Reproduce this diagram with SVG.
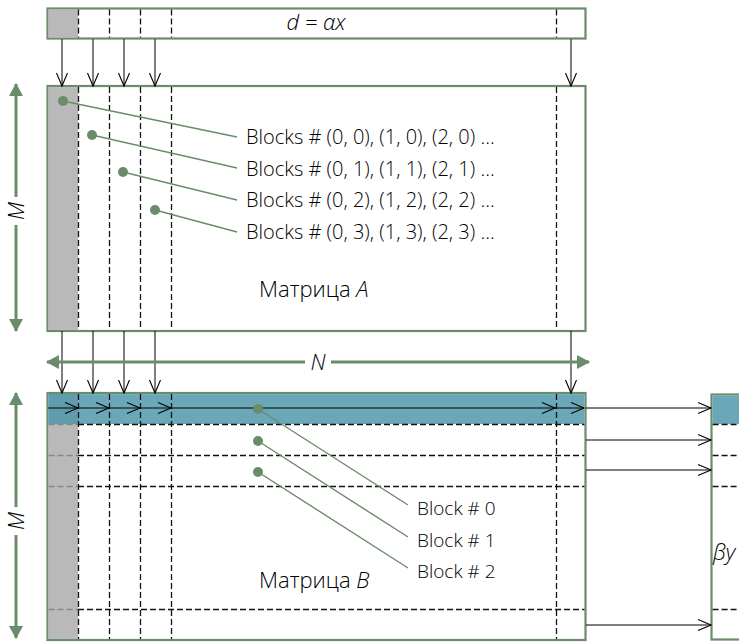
<svg xmlns="http://www.w3.org/2000/svg" width="739" height="642" viewBox="0 0 739 642">
<defs>
<marker id="open" markerUnits="userSpaceOnUse" markerWidth="14" markerHeight="14" refX="13" refY="6" orient="auto" overflow="visible">
<path d="M0,0.5 L13,6 L0,11.5" fill="none" stroke="#000" stroke-width="1.1"/>
</marker>
<marker id="tri" markerUnits="userSpaceOnUse" markerWidth="14" markerHeight="14" refX="12" refY="7" orient="auto-start-reverse" overflow="visible">
<path d="M0,0 L13,7 L0,14 Z" fill="#6a8c6a"/>
</marker>
<style>
.frame{fill:#fff;stroke:#6a8c6a;stroke-width:2.2}
.gray{fill:#b9b9b9}
.teal{fill:#6aa8b8}
.tealdk{fill:#5f9cac}
.dash{stroke:#111;stroke-width:1.3;stroke-dasharray:6 3;fill:none}
.dashl{stroke:#888;stroke-width:1.3;stroke-dasharray:6 3;fill:none}
.arr{stroke:#000;stroke-width:1;fill:none;marker-end:url(#open)}
.dim{stroke:#6a8c6a;stroke-width:3;fill:none;marker-start:url(#tri);marker-end:url(#tri)}
.lead{stroke:#6a8c6a;stroke-width:1.4;fill:none}
.dot{fill:#6a8c6a}
.t{font-family:"Open Sans","Liberation Sans",sans-serif;font-weight:300;font-size:20px;fill:#000}
.tb{font-family:"Open Sans","Liberation Sans",sans-serif;font-weight:300;font-size:19px;fill:#000}
.tm{font-family:"Open Sans","Liberation Sans",sans-serif;font-weight:300;font-size:22px;fill:#000}
.ti{font-family:"Open Sans","Liberation Sans",sans-serif;font-weight:300;font-style:italic;font-size:22px;fill:#000}
</style>
</defs>

<g id="vector-d">
<rect class="frame" x="47.5" y="8.5" width="538" height="30"/>
<rect class="gray" x="48.6" y="9.6" width="29.4" height="27.8"/>
<path class="dash" d="M78.5,9.6V37.4M109.5,9.6V37.4M140.5,9.6V37.4M171.5,9.6V37.4M556.5,9.6V37.4"/>
<text class="ti" x="316" y="30" text-anchor="middle">d = αx</text>
</g>

<g id="matrix-a">
<rect class="frame" x="47.5" y="86" width="538" height="245"/>
<rect class="gray" x="48.6" y="87.1" width="29.4" height="242.8"/>
<path class="dash" d="M78.5,87V330M109.5,87V330M140.5,87V330M171.5,87V330M556.5,87V330"/>
<text class="tm" x="259" y="297">Матрица <tspan font-style="italic">A</tspan></text>
</g>

<g id="matrix-b">
<rect class="frame" x="47.5" y="393" width="538" height="247"/>
<rect class="teal" x="48.6" y="394.1" width="535.8" height="29.9"/>
<rect class="tealdk" x="48.6" y="394.1" width="29.4" height="29.9"/>
<rect class="gray" x="48.6" y="424" width="29.4" height="214.9"/>
<path class="dashl" d="M48.6,424.5H78M48.6,455.5H78M48.6,486.5H78M48.6,609.5H78"/>
<path class="dash" d="M78,424.5H584.4M78,455.5H584.4M78,486.5H584.4M78,609.5H584.4"/>
<path class="dash" d="M78.5,394V639M109.5,394V639M140.5,394V639M171.5,394V639M556.5,394V639"/>
<text class="tm" x="259" y="588">Матрица <tspan font-style="italic">B</tspan></text>
</g>

<g id="vector-by">
<rect class="frame" x="711.5" y="394.5" width="40" height="245"/>
<rect class="teal" x="712.6" y="395.6" width="27" height="28.4"/>
<path class="dash" d="M712.6,424.5H739M712.6,455.5H739M712.6,486.5H739M712.6,609.5H739"/>
<text class="ti" x="713" y="560">βy</text>
</g>

<g id="labels-a">
<text class="t" x="246" y="144">Blocks # (0, 0), (1, 0), (2, 0) ...</text>
<text class="t" x="246" y="176">Blocks # (0, 1), (1, 1), (2, 1) ...</text>
<text class="t" x="246" y="207">Blocks # (0, 2), (1, 2), (2, 2) ...</text>
<text class="t" x="246" y="239">Blocks # (0, 3), (1, 3), (2, 3) ...</text>
</g>

<g id="labels-b">
<text class="tb" x="417" y="515">Block # 0</text>
<text class="tb" x="417" y="547">Block # 1</text>
<text class="tb" x="417" y="578">Block # 2</text>
</g>

<g id="connectors">
<path class="arr" d="M62,39V86"/>
<path class="arr" d="M93,39V86"/>
<path class="arr" d="M124,39V86"/>
<path class="arr" d="M155,39V86"/>
<path class="arr" d="M571,39V86"/>
<path class="arr" d="M62,331V393"/>
<path class="arr" d="M93,331V393"/>
<path class="arr" d="M124,331V393"/>
<path class="arr" d="M155,331V393"/>
<path class="arr" d="M571,331V393"/>
<path class="arr" d="M48,408H78"/>
<path class="arr" d="M78,408H109"/>
<path class="arr" d="M109,408H140"/>
<path class="arr" d="M140,408H171"/>
<path class="arr" d="M171,408H555"/>
<path class="arr" d="M555,408H584"/>
<path class="arr" d="M586,408H711"/>
<path class="arr" d="M586,440H711"/>
<path class="arr" d="M586,470H711"/>
<path class="arr" d="M586,625H711"/>
<path class="lead" d="M63,101L237,137M92,135L237,168M123,172L237,200M155,210L237,232"/>
<circle class="dot" cx="63" cy="101" r="5"/>
<circle class="dot" cx="92" cy="135" r="5"/>
<circle class="dot" cx="123" cy="172" r="5"/>
<circle class="dot" cx="155" cy="210" r="5"/>
<path class="lead" d="M258,409L408,505M258,441L408,537M258,472L408,568"/>
<circle class="dot" cx="258" cy="409" r="5"/>
<circle class="dot" cx="258" cy="441" r="5"/>
<circle class="dot" cx="258" cy="472" r="5"/>
<path class="dim" d="M16,84V331"/>
<path class="dim" d="M16,393V638"/>
<path class="dim" d="M47,362H589"/>
</g>

<g id="dim-labels">
<rect x="6" y="197" width="20" height="28" fill="#fff"/>
<text class="ti" transform="translate(24,211) rotate(-90)" text-anchor="middle">M</text>
<rect x="6" y="507" width="20" height="28" fill="#fff"/>
<text class="ti" transform="translate(24,521) rotate(-90)" text-anchor="middle">M</text>
<rect x="305" y="351" width="26" height="22" fill="#fff"/>
<text class="ti" x="318" y="370" text-anchor="middle">N</text>
</g>
</svg>
